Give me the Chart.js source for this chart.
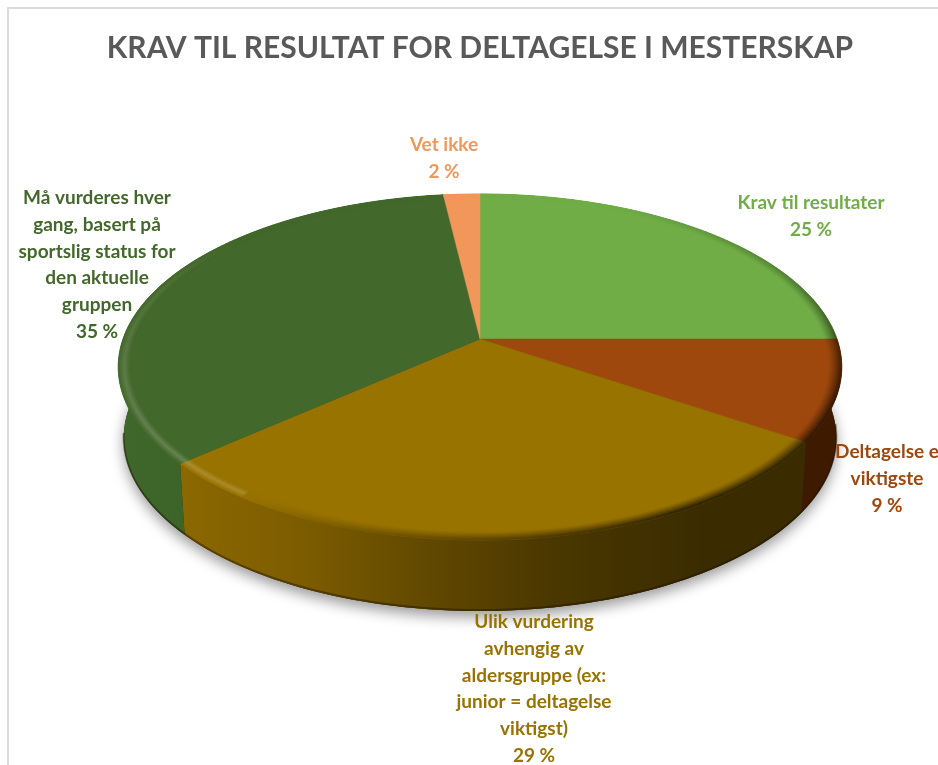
<!DOCTYPE html>
<html>
<head>
<meta charset="utf-8">
<title>Krav til resultat</title>
<script src="https://cdn.jsdelivr.net/npm/chart.js@4"></script>
<style>
    html, body { margin: 0; padding: 0; background: #fff; }
    canvas { display: block; }
</style>
</head>
<body>
<canvas id="graficoPizza" width="938" height="765"></canvas>
<script>
// data
const tittel = 'KRAV TIL RESULTAT FOR DELTAGELSE I MESTERSKAP';
const kategorier = [
    ['Krav til resultater'],
    ['Deltagelse e', 'viktigste'],
    ['Ulik vurdering', 'avhengig av', 'aldersgruppe (ex:', 'junior = deltagelse', 'viktigst)'],
    ['Må vurderes hver', 'gang, basert på', 'sportslig status for', 'den aktuelle', 'gruppen'],
    ['Vet ikke']
];
const verdier = [25.0, 9.4, 29.1, 34.6, 1.9];

// colours
const farger = ['#70ad47', '#9e480e', '#997300', '#43682b', '#f1975a'];
const veggFarger = [
    [[0, '#4f7a32'], [1, '#4f7a32']],
    [[0, '#3e1a00'], [1, '#3e1a00']],
    [[0, '#8c6800'], [0.2, '#7c5c00'], [0.4, '#614800'], [0.6, '#4a3700'], [0.85, '#3a2b00'], [1, '#3a2b00']],
    [[0, '#3f672b'], [1, '#335a24']],
    [[0, '#b5683a'], [1, '#b5683a']]
];

// label centres (x, y of first line), line height
const etikettPos = [[811, 203], [887, 452], [534, 622], [97, 198], [444, 145]];
const linjeHoyde = 26.7;

// pie plane projected with perspective: centre and scale
const CX = 480, CY = 339, BX = 357, AY = 168.5, P = 0.1618;
const DYBDE = 71, KRYMP = 0.985;

function punkt(t, r) {
    let u = r * Math.sin(t), v = -r * Math.cos(t), w = 1 - P * v;
    return [CX + BX * u / w, CY + AY * v / w];
}
function bunn(t) {
    let p = punkt(t, 1);
    return [CX + (p[0] - CX) * KRYMP, p[1] + DYBDE];
}
function tabell(tab, d) {
    for (let i = 1; i < tab.length; i++) {
        if (d <= tab[i][0]) {
            let a = tab[i - 1], b = tab[i];
            return a[1] + (b[1] - a[1]) * (d - a[0]) / (b[0] - a[0]);
        }
    }
    return 0;
}
function blande(hex, mot, a) {
    let n = parseInt(hex.slice(1), 16);
    let c = [n >> 16, (n >> 8) & 255, n & 255].map(x => Math.round(x + (mot - x) * a));
    return 'rgb(' + c.join(',') + ')';
}
const lysTab = [[0, 0], [150, 0], [185, 0.12], [230, 0.2], [280, 0.1], [310, 0], [361, 0]];
const morkTab = [[0, 0], [25, 0], [70, 0.3], [110, 0.7], [150, 0.75], [190, 0.3], [215, 0], [361, 0]];

const pizza3d = {
    id: 'pizza3d',
    beforeDraw(chart) {
        let c = chart.ctx;
        c.save();
        c.strokeStyle = '#dcdcdc';
        c.lineWidth = 2;
        c.beginPath();
        c.moveTo(8, 765);
        c.lineTo(8, 8);
        c.lineTo(938, 8);
        c.stroke();
        c.restore();
    },
    beforeDatasetsDraw(chart) {
        let c = chart.ctx;
        let arcs = chart.getDatasetMeta(0).data;
        let fatias = arcs.map(a => [a.startAngle + Math.PI / 2, a.endAngle + Math.PI / 2]);
        c.save();

        // shadow under the pie
        c.save();
        c.shadowColor = 'rgba(0,0,0,0.4)';
        c.shadowBlur = 14;
        c.shadowOffsetY = 6;
        c.fillStyle = '#3a2b00';
        c.beginPath();
        for (let d = 0; d <= 360; d += 2) {
            let p = bunn(d * Math.PI / 180);
            c.lineTo(p[0], p[1]);
        }
        c.fill();
        c.restore();

        // side wall
        fatias.forEach((f, i) => {
            let xs = [], passo = (f[1] - f[0]) / 80;
            c.beginPath();
            for (let k = 0; k <= 80; k++) {
                let p = punkt(f[0] + passo * k, 1);
                xs.push(p[0]);
                c.lineTo(p[0], p[1]);
            }
            for (let k = 80; k >= 0; k--) {
                let p = bunn(f[0] + passo * k);
                xs.push(p[0]);
                c.lineTo(p[0], p[1]);
            }
            c.closePath();
            let g = c.createLinearGradient(Math.min(...xs), 0, Math.max(...xs), 0);
            veggFarger[i].forEach(s => g.addColorStop(s[0], s[1]));
            c.fillStyle = g;
            c.fill();
        });

        // dark line along the bottom edge
        c.strokeStyle = 'rgba(30,20,0,0.45)';
        c.lineWidth = 2;
        c.beginPath();
        for (let d = 95; d <= 262; d += 1) {
            let p = bunn(d * Math.PI / 180);
            c.lineTo(p[0], p[1] - 1);
        }
        c.stroke();

        // flat top
        fatias.forEach((f, i) => {
            c.beginPath();
            c.moveTo(CX, CY);
            for (let k = 0; k <= 120; k++) {
                let p = punkt(f[0] + (f[1] - f[0]) * k / 120, 1);
                c.lineTo(p[0], p[1]);
            }
            c.closePath();
            c.fillStyle = farger[i];
            c.fill();
            c.strokeStyle = farger[i];
            c.lineWidth = 0.5;
            c.stroke();
        });

        // bevel on the rim
        const R0 = 0.965, ANEIS = 10;
        fatias.forEach((f, i) => {
            let n = Math.ceil((f[1] - f[0]) * 180 / Math.PI);
            for (let k = 0; k < n; k++) {
                let t1 = f[0] + (f[1] - f[0]) * k / n;
                let t2 = f[0] + (f[1] - f[0]) * (k + 1) / n;
                let d = ((t1 * 180 / Math.PI) % 360 + 360) % 360;
                let lys = tabell(lysTab, d), mork = tabell(morkTab, d);
                for (let a = 0; a < ANEIS; a++) {
                    let s = (a + 0.5) / ANEIS;
                    let r1 = R0 + (1 - R0) * a / ANEIS, r2 = R0 + (1 - R0) * (a + 1) / ANEIS;
                    let cor;
                    if (mork > 0) {
                        cor = blande(farger[i], 0, mork * Math.pow(s, 1.2));
                    } else {
                        cor = blande(farger[i], 255, lys * Math.max(0, 1 - Math.abs(s - 0.55) / 0.45));
                    }
                    let q = [punkt(t1, r1), punkt(t1, r2), punkt(t2, r2), punkt(t2, r1)];
                    c.beginPath();
                    q.forEach(p => c.lineTo(p[0], p[1]));
                    c.closePath();
                    c.fillStyle = cor;
                    c.strokeStyle = cor;
                    c.lineWidth = 0.6;
                    c.fill();
                    c.stroke();
                }
            }
        });

        c.restore();
        return false;
    },
    afterDraw(chart) {
        let c = chart.ctx;
        c.save();
        c.font = 'bold 19px Lato';
        c.textAlign = 'center';
        c.textBaseline = 'middle';
        kategorier.forEach((linhas, i) => {
            c.fillStyle = farger[i];
            let todas = linhas.concat([Math.round(verdier[i]) + ' %']);
            todas.forEach((txt, k) => {
                c.fillText(txt, etikettPos[i][0], etikettPos[i][1] + k * linjeHoyde);
            });
        });
        c.restore();
    }
};

new Chart(document.getElementById('graficoPizza'), {
    type: 'pie',
    data: {
        labels: kategorier.map(k => k.join(' ')),
        datasets: [{
            data: verdier,
            backgroundColor: farger
        }]
    },
    options: {
        responsive: false,
        animation: false,
        layout: { padding: { left: 22, top: 22 } },
        plugins: {
            legend: { display: false },
            tooltip: { enabled: false },
            title: {
                display: true,
                text: tittel,
                color: '#595959',
                font: { family: 'Lato', size: 30, weight: 'bold' },
                padding: { top: 8, bottom: 10 }
            }
        }
    },
    plugins: [pizza3d]
});
</script>
</body>
</html>
